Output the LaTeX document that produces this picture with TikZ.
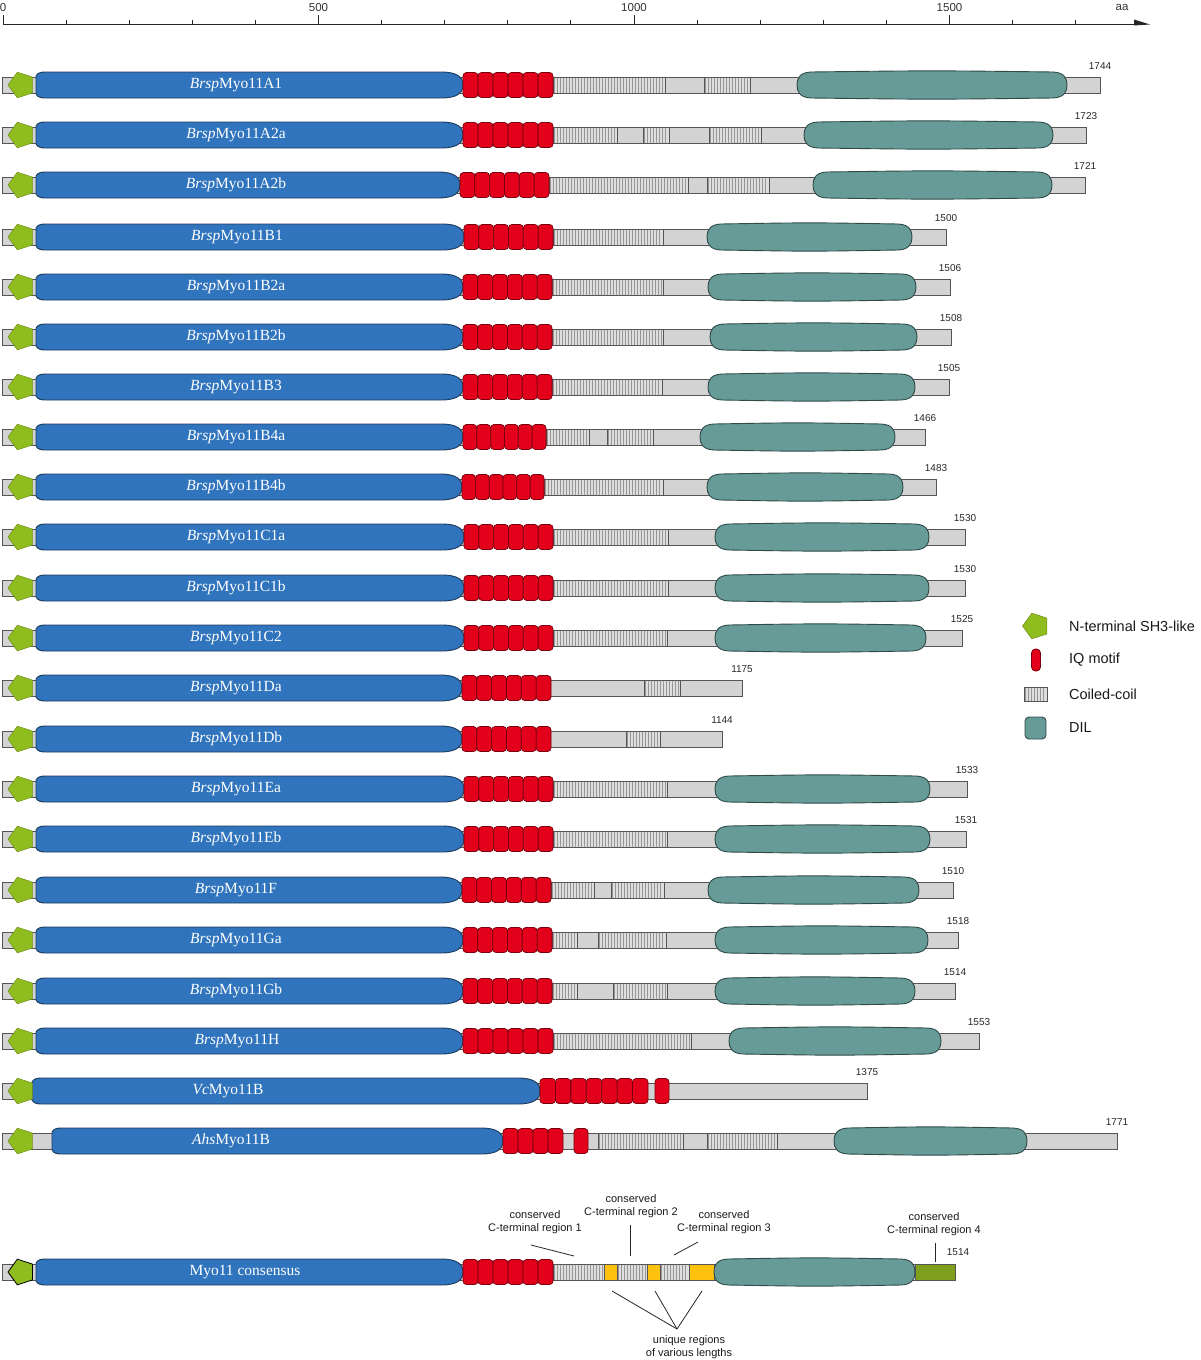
\documentclass[tikz,border=0pt]{standalone}
\usepackage{fontspec}
\setmainfont{Liberation Serif}
\setsansfont{Liberation Sans}

\definecolor{myblue}{HTML}{2F74BC}
\definecolor{headline}{HTML}{1E3A5C}
\definecolor{iqred}{HTML}{E2001A}
\definecolor{iqline}{HTML}{7A0010}
\definecolor{dilteal}{HTML}{669B98}
\definecolor{dilline}{HTML}{2F4A48}
\definecolor{shgreen}{HTML}{8FBC1E}
\definecolor{shline}{HTML}{6E8F14}
\definecolor{bbgrey}{HTML}{D3D3D3}
\definecolor{bbline}{HTML}{555555}
\definecolor{ccfill}{HTML}{DEDEDE}
\definecolor{ccline}{HTML}{9A9595}
\definecolor{uyellow}{HTML}{FFC20E}
\definecolor{olive}{HTML}{7FA01F}

\tikzset{
  bbst/.style={fill=bbgrey, draw=bbline, line width=0.9pt},
  ccstripe/.style={draw=ccline, line width=1.1pt},
  headst/.style={fill=myblue, draw=headline, line width=0.9pt},
  iqst/.style={fill=iqred, draw=iqline, line width=0.8pt, rounded corners=3.5pt},
  dilst/.style={fill=dilteal, draw=dilline, line width=0.9pt},
  shst/.style={fill=shgreen, draw=shline, line width=0.5pt},
  lblst/.style={text=white, font=\fontsize{15.5}{18}\selectfont, inner sep=0pt},
  numst/.style={font=\sffamily\fontsize{10}{12}\selectfont, text=black!85, inner sep=0pt},
  axlbl/.style={font=\sffamily\fontsize{11.5}{13}\selectfont, text=black!80, inner sep=0pt},
  legst/.style={font=\sffamily\fontsize{14.5}{17}\selectfont, text=black!90, inner sep=0pt, anchor=west},
  annst/.style={font=\sffamily\fontsize{11}{13}\selectfont, text=black!90, inner sep=0pt, align=center},
  annline/.style={draw=black!85, line width=0.8pt},
  axisst/.style={draw=black!85, line width=1pt}
}

% backbone: y, end
\newcommand\bbar[2]{\draw[bbst] (2,#1-8) rectangle (#2,#1+8);}
% coiled coil box: x1, y1, x2, y2
\newcommand\ccbox[4]{%
  \fill[ccfill] (#1,#2) rectangle (#3,#4);
  \pgfmathsetmacro\ccs{#1+1.5}\pgfmathsetmacro\ccn{#1+4.5}\pgfmathsetmacro\cce{#3-0.8}
  \foreach \xx in {\ccs,\ccn,...,\cce}{\draw[ccstripe] (\xx,#2) -- (\xx,#4);}
  \draw[bbline, line width=0.9pt] (#1,#2) rectangle (#3,#4);}
% coiled coil segment: y, x1, x2
\newcommand\ccseg[3]{\ccbox{#2}{#1-8}{#3}{#1+8}}
% motor head: y, L, R
\newcommand\head[3]{%
  \draw[headst] (#2,#1-9) .. controls (#2+2,#1-12.5) and (#2+5,#1-13) .. (#2+10,#1-13)
   -- (#3-22,#1-13) .. controls (#3-6,#1-13) and (#3,#1-8) .. (#3,#1)
   .. controls (#3,#1+8) and (#3-6,#1+13) .. (#3-22,#1+13)
   -- (#2+10,#1+13) .. controls (#2+5,#1+13) and (#2+2,#1+12.5) .. (#2,#1+9) -- cycle;}
% DIL: y, L, R
\newcommand\dil[3]{%
  \draw[dilst] (#2+14,#1-13) .. controls ({(#2+#3)/2},#1-14.5) .. (#3-14,#1-13)
   .. controls (#3-3,#1-12.5) and (#3,#1-7) .. (#3,#1)
   .. controls (#3,#1+7) and (#3-3,#1+12.5) .. (#3-14,#1+13)
   .. controls ({(#2+#3)/2},#1+14.5) .. (#2+14,#1+13)
   .. controls (#2+3,#1+12.5) and (#2,#1+7) .. (#2,#1)
   .. controls (#2,#1-7) and (#2+3,#1-12.5) .. cycle;}
% IQ motifs: y, x1, x2, n
\newcommand\iqs[4]{%
  \pgfmathsetmacro\iqw{(#3-#2)/#4}
  \foreach \i in {1,...,#4}{
    \draw[iqst] ({#2+(\i-1)*\iqw},#1-12.5) rectangle ({#2+\i*\iqw},#1+12.5);}}
% SH3-like pentagon: y, cx, style
\newcommand\shp[3]{%
  \draw[#3] (#2-13.5,#1) -- (#2-4.17,#1-12.84) -- (#2+10.92,#1-7.94)
   -- (#2+10.92,#1+7.94) -- (#2-4.17,#1+12.84) -- cycle;}

\begin{document}
\begin{tikzpicture}[x=1pt,y=-1pt]
\useasboundingbox (0,0) rectangle (1200,1360);

% ---------------- axis ----------------
\coordinate (ax0) at (3,24);
\coordinate (ax1) at (1138,24);
\draw[axisst] (ax0) -- (ax1);
\fill[black!85] (1134,19.5) -- (1150,24.5) -- (1134,25.5) -- cycle;
\foreach \t in {0,500,1000,1500}{
  \draw[axisst] ({3+0.631*\t},15) -- ({3+0.631*\t},24);}
\foreach \t in {100,200,300,400,600,700,800,900,1100,1200,1300,1400,1600,1700}{
  \draw[axisst] ({3+0.631*\t},19.5) -- ({3+0.631*\t},24);}
\node[axlbl] (t0) at (3,7.5) {0};
\node[axlbl] (t500) at (318.5,7.5) {500};
\node[axlbl] (t1000) at (634,7.5) {1000};
\node[axlbl] (t1500) at (949.5,7.5) {1500};
\node[axlbl] (taa) at (1122,7.5) {aa};

% ---------------- rows ----------------
% 1 A1
\bbar{85}{1100}
\ccseg{85}{553}{665}\ccseg{85}{704}{750}
\head{85}{36}{463}\iqs{85}{463}{553}{6}\dil{85}{797}{1067}\shp{85}{21.5}{shst}
\node[lblst] (l1) at (236,85) {\textit{Brsp}Myo11A1};
\node[numst] (n1) at (1100,66) {1744};
% 2 A2a
\bbar{135}{1086}
\ccseg{135}{553}{617}\ccseg{135}{643}{669}\ccseg{135}{709}{761}
\head{135}{36}{463}\iqs{135}{463}{553}{6}\dil{135}{804}{1053}\shp{135}{21.5}{shst}
\node[lblst] (l2) at (236,135) {\textit{Brsp}Myo11A2a};
\node[numst] (n2) at (1086,116) {1723};
% 3 A2b
\bbar{185}{1085}
\ccseg{185}{549}{688}\ccseg{185}{707}{769}
\head{185}{36}{460}\iqs{185}{460}{549}{6}\dil{185}{813}{1052}\shp{185}{21.5}{shst}
\node[lblst] (l3) at (236,185) {\textit{Brsp}Myo11A2b};
\node[numst] (n3) at (1085,166) {1721};
% 4 B1
\bbar{237}{946}
\ccseg{237}{553}{663}
\head{237}{36}{464}\iqs{237}{464}{553}{6}\dil{237}{707}{912}\shp{237}{21.5}{shst}
\node[lblst] (l4) at (237,237) {\textit{Brsp}Myo11B1};
\node[numst] (n4) at (946,218) {1500};
% 5 B2a
\bbar{287}{950}
\ccseg{287}{552}{663}
\head{287}{36}{463}\iqs{287}{463}{552}{6}\dil{287}{708}{916}\shp{287}{21.5}{shst}
\node[lblst] (l5) at (236,287) {\textit{Brsp}Myo11B2a};
\node[numst] (n5) at (950,268) {1506};
% 6 B2b
\bbar{337}{951}
\ccseg{337}{552}{663}
\head{337}{36}{463}\iqs{337}{463}{552}{6}\dil{337}{710}{917}\shp{337}{21.5}{shst}
\node[lblst] (l6) at (236,337) {\textit{Brsp}Myo11B2b};
\node[numst] (n6) at (951,318) {1508};
% 7 B3
\bbar{387}{949}
\ccseg{387}{552}{662}
\head{387}{36}{463}\iqs{387}{463}{552}{6}\dil{387}{708}{915}\shp{387}{21.5}{shst}
\node[lblst] (l7) at (236,387) {\textit{Brsp}Myo11B3};
\node[numst] (n7) at (949,368) {1505};
% 8 B4a
\bbar{437}{925}
\ccseg{437}{546}{589}\ccseg{437}{607}{653}
\head{437}{36}{463}\iqs{437}{463}{546}{6}\dil{437}{700}{895}\shp{437}{21.5}{shst}
\node[lblst] (l8) at (236,437) {\textit{Brsp}Myo11B4a};
\node[numst] (n8) at (925,418) {1466};
% 9 B4b
\bbar{487}{936}
\ccseg{487}{544}{663}
\head{487}{36}{462}\iqs{487}{462}{544}{6}\dil{487}{707}{903}\shp{487}{21.5}{shst}
\node[lblst] (l9) at (236,487) {\textit{Brsp}Myo11B4b};
\node[numst] (n9) at (936,468) {1483};
% 10 C1a
\bbar{537}{965}
\ccseg{537}{553}{668}
\head{537}{36}{464}\iqs{537}{464}{553}{6}\dil{537}{715}{929}\shp{537}{21.5}{shst}
\node[lblst] (l10) at (236,537) {\textit{Brsp}Myo11C1a};
\node[numst] (n10) at (965,518) {1530};
% 11 C1b
\bbar{588}{965}
\ccseg{588}{553}{668}
\head{588}{36}{464}\iqs{588}{464}{553}{6}\dil{588}{715}{929}\shp{588}{21.5}{shst}
\node[lblst] (l11) at (236,588) {\textit{Brsp}Myo11C1b};
\node[numst] (n11) at (965,569) {1530};
% 12 C2
\bbar{638}{962}
\ccseg{638}{553}{667}
\head{638}{36}{464}\iqs{638}{464}{553}{6}\dil{638}{715}{926}\shp{638}{21.5}{shst}
\node[lblst] (l12) at (236,638) {\textit{Brsp}Myo11C2};
\node[numst] (n12) at (962,619) {1525};
% 13 Da
\bbar{688}{742}
\ccseg{688}{644}{680}
\head{688}{36}{462}\iqs{688}{462}{551}{6}\shp{688}{21.5}{shst}
\node[lblst] (l13) at (236,688) {\textit{Brsp}Myo11Da};
\node[numst] (n13) at (742,669) {1175};
% 14 Db
\bbar{739}{722}
\ccseg{739}{626}{660}
\head{739}{36}{462}\iqs{739}{462}{551}{6}\shp{739}{21.5}{shst}
\node[lblst] (l14) at (236,739) {\textit{Brsp}Myo11Db};
\node[numst] (n14) at (722,720) {1144};
% 15 Ea
\bbar{789}{967}
\ccseg{789}{553}{667}
\head{789}{36}{464}\iqs{789}{464}{553}{6}\dil{789}{715}{930}\shp{789}{21.5}{shst}
\node[lblst] (l15) at (236,789) {\textit{Brsp}Myo11Ea};
\node[numst] (n15) at (967,770) {1533};
% 16 Eb
\bbar{839}{966}
\ccseg{839}{553}{667}
\head{839}{36}{464}\iqs{839}{464}{553}{6}\dil{839}{715}{930}\shp{839}{21.5}{shst}
\node[lblst] (l16) at (236,839) {\textit{Brsp}Myo11Eb};
\node[numst] (n16) at (966,820) {1531};
% 17 F
\bbar{890}{953}
\ccseg{890}{551}{594}\ccseg{890}{611}{664}
\head{890}{36}{462}\iqs{890}{462}{551}{6}\dil{890}{708}{919}\shp{890}{21.5}{shst}
\node[lblst] (l17) at (236,890) {\textit{Brsp}Myo11F};
\node[numst] (n17) at (953,871) {1510};
% 18 Ga
\bbar{940}{958}
\ccseg{940}{552}{577}\ccseg{940}{598}{666}
\head{940}{36}{463}\iqs{940}{463}{552}{6}\dil{940}{715}{928}\shp{940}{21.5}{shst}
\node[lblst] (l18) at (236,940) {\textit{Brsp}Myo11Ga};
\node[numst] (n18) at (958,921) {1518};
% 19 Gb
\bbar{991}{955}
\ccseg{991}{552}{577}\ccseg{991}{613}{667}
\head{991}{36}{463}\iqs{991}{463}{552}{6}\dil{991}{715}{915}\shp{991}{21.5}{shst}
\node[lblst] (l19) at (236,991) {\textit{Brsp}Myo11Gb};
\node[numst] (n19) at (955,972) {1514};
% 20 H
\bbar{1041}{979}
\ccseg{1041}{553}{691}
\head{1041}{36}{463}\iqs{1041}{463}{553}{6}\dil{1041}{729}{941}\shp{1041}{21.5}{shst}
\node[lblst] (l20) at (237,1041) {\textit{Brsp}Myo11H};
\node[numst] (n20) at (979,1022) {1553};
% 21 Vc
\bbar{1091}{867}
\head{1091}{32}{540}\iqs{1091}{540}{648}{7}\iqs{1091}{655}{669}{1}\shp{1091}{21.5}{shst}
\node[lblst] (l21) at (228,1091) {\textit{Vc}Myo11B};
\node[numst] (n21) at (867,1072) {1375};
% 22 Ahs
\bbar{1141}{1117}
\ccseg{1141}{598}{683}\ccseg{1141}{707}{777}
\head{1141}{52}{503}\iqs{1141}{503}{563}{4}\iqs{1141}{574}{588}{1}\dil{1141}{834}{1027}\shp{1141}{21.5}{shst}
\node[lblst] (l22) at (231,1141) {\textit{Ahs}Myo11B};
\node[numst] (n22) at (1117,1122) {1771};

% 23 consensus
\bbar{1272}{915}
\draw[fill=olive, draw=bbline, line width=0.9pt] (915,1264) rectangle (955,1280);
\ccseg{1272}{553}{604}\ccseg{1272}{617}{647}\ccseg{1272}{660}{689}
\draw[fill=uyellow, draw=bbline, line width=0.9pt] (604,1264) rectangle (617,1280);
\draw[fill=uyellow, draw=bbline, line width=0.9pt] (647,1264) rectangle (660,1280);
\draw[fill=uyellow, draw=bbline, line width=0.9pt] (689,1264) rectangle (714,1280);
\head{1272}{36}{463}\iqs{1272}{463}{553}{6}\dil{1272}{714}{915}
\shp{1272}{21.5}{shst, draw=black, line width=0.8pt}
\node[lblst] (l23) at (245,1272) {Myo11 consensus};
\node[numst] (n23) at (958,1252) {1514};

% annotations
\node[annst] (c1) at (535,1222.5) {conserved\\C-terminal region 1};
\node[annst] (c2) at (631,1206.5) {conserved\\C-terminal region 2};
\node[annst] (c3) at (724,1222.5) {conserved\\C-terminal region 3};
\node[annst] (c4) at (934,1224) {conserved\\C-terminal region 4};
\node[annst] (uq) at (689,1347) {unique regions\\of various lengths};
\coordinate (c1a) at (531,1245);
\coordinate (c1b) at (574,1256);
\coordinate (c2a) at (630.5,1225);
\coordinate (c2b) at (630.5,1256);
\coordinate (c3a) at (698,1242);
\coordinate (c3b) at (674,1255);
\coordinate (c4a) at (935,1243);
\coordinate (c4b) at (935,1262);
\draw[annline] (c1a) -- (c1b);
\draw[annline] (c2a) -- (c2b);
\draw[annline] (c3a) -- (c3b);
\draw[annline] (c4a) -- (c4b);
\coordinate (uqc) at (677,1329);
\coordinate (u1) at (612,1291);
\coordinate (u2) at (655,1291);
\coordinate (u3) at (702,1291);
\draw[annline] (u1) -- (uqc);
\draw[annline] (u2) -- (uqc);
\draw[annline] (u3) -- (uqc);

% ---------------- legend ----------------
\shp{626}{1036}{shst}
\node[legst] (g1) at (1069,626) {N-terminal SH3-like};
\draw[iqst, rounded corners=4pt] (1031.5,649) rectangle (1040.5,671);
\node[legst] (g2) at (1069,660) {IQ motif};
\ccbox{1024}{687}{1047}{701}
\node[legst] (g3) at (1069,694) {Coiled-coil};
\draw[dilst, rounded corners=4pt] (1025,717) rectangle (1046,739);
\node[legst] (g4) at (1069,728) {DIL};
\end{tikzpicture}
\end{document}
